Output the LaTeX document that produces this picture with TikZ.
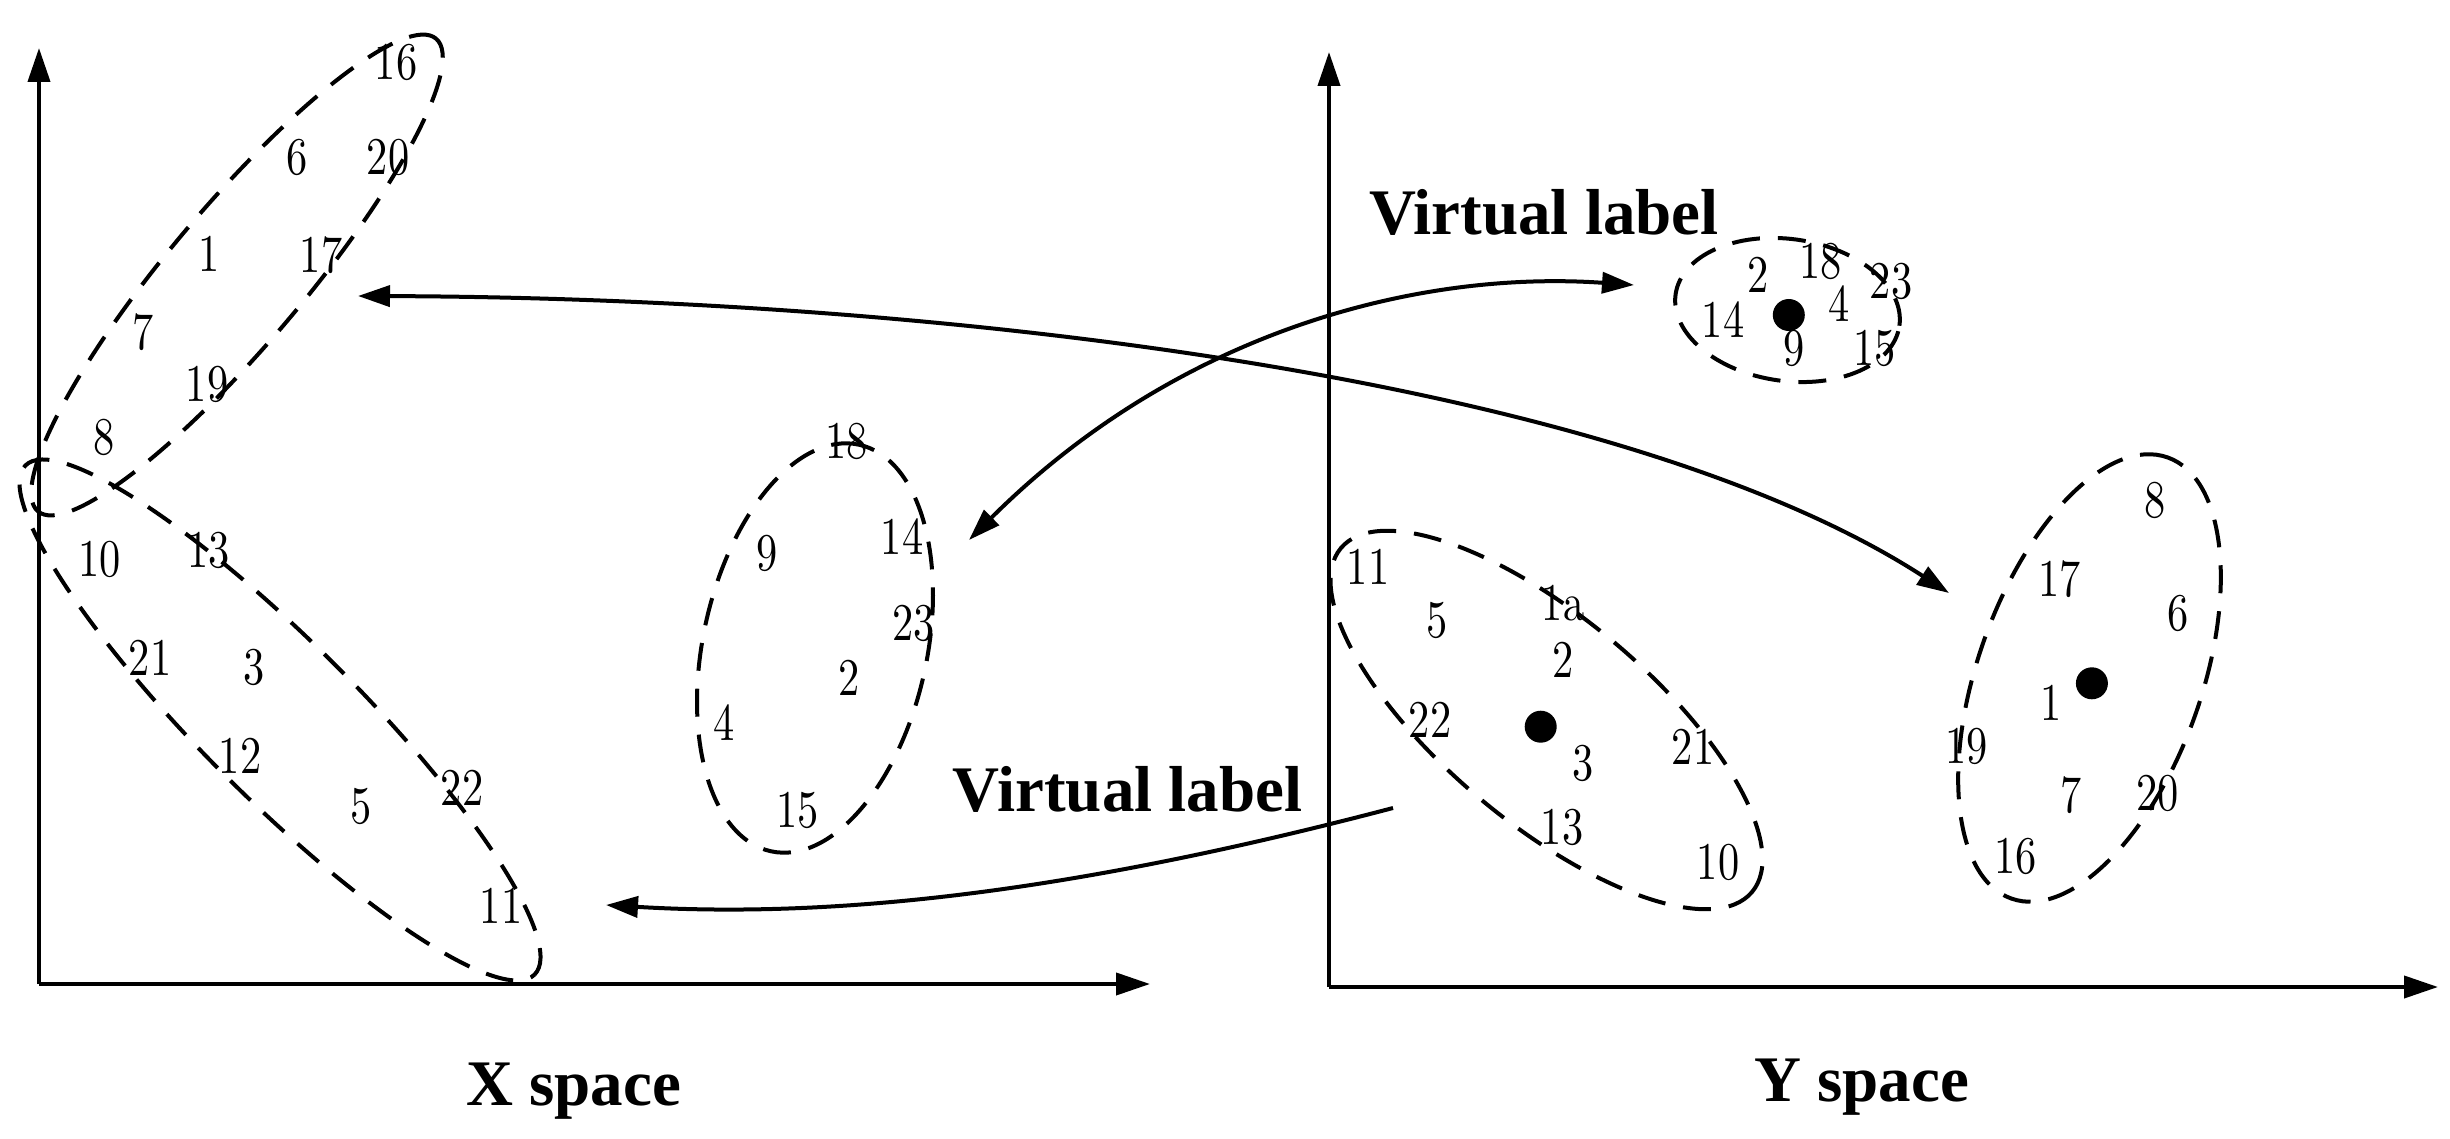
\documentclass[tikz,border=0pt]{standalone}
\usepackage{fontspec}
\setmainfont{Liberation Serif}
\newfontfamily\numfont{lmroman10-regular.otf}[FakeStretch=0.8]
\usetikzlibrary{arrows.meta,shapes.geometric}
\tikzset{
  num/.style={font=\numfont\fontsize{53}{60}\selectfont, inner sep=0pt},
  title/.style={font=\bfseries\fontsize{65}{78}\selectfont, inner sep=0pt, anchor=base},
  cluster/.style={draw, ellipse, line width=4pt, dash pattern=on 28pt off 18pt, inner sep=0pt},
  axisline/.style={line width=4pt, -{Triangle[length=34pt,width=22pt]}},
  link/.style={line width=4pt, >={Triangle[length=32pt,width=21pt]}},
  centre/.style={circle, fill, inner sep=0pt, minimum size=32pt},
}
\begin{document}
\begin{tikzpicture}[x=1pt,y=-1pt]
\useasboundingbox (0,0) rectangle (2450,1139);
% axes
\coordinate (ox) at (39,984);
\coordinate (oxy) at (39,48);
\coordinate (oxx) at (1150,984);
\coordinate (oy) at (1329,987);
\coordinate (oyy) at (1329,52);
\coordinate (oyx) at (2438,987);
\draw[axisline] (ox) -- (oxy);
\draw[axisline] (ox) -- (oxx);
\draw[axisline] (oy) -- (oyy);
\draw[axisline] (oy) -- (oyx);
% clusters
\node[cluster, minimum width=618pt, minimum height=136pt, rotate=49.9] (e1) at (237,275) {};
\node[cluster, minimum width=720pt, minimum height=156pt, rotate=-45] (e2) at (280,720) {};
\node[cluster, minimum width=416pt, minimum height=224pt, rotate=77.8] (e3) at (815,648) {};
\node[cluster, minimum width=226pt, minimum height=142pt, rotate=-8] (e4) at (1787.5,310) {};
\node[cluster, minimum width=536pt, minimum height=206pt, rotate=-39.9] (e5) at (1546.5,720) {};
\node[cluster, minimum width=468pt, minimum height=224pt, rotate=70.5] (e6) at (2089.5,678) {};
% cluster 1 labels
\node[num] (a16) at (396,62.5) {16};
\node[num] (a6) at (297,157) {6};
\node[num] (a20) at (388,157) {20};
\node[num] (a1) at (209,254) {1};
\node[num] (a17) at (321,255) {17};
\node[num] (a7) at (143.5,332) {7};
\node[num] (a19) at (207,384) {19};
\node[num] (a8) at (104,437.5) {8};
% cluster 2 labels
\node[num] (b10) at (99.5,559.6) {10};
\node[num] (b13) at (208.6,550.7) {13};
\node[num] (b21) at (150,658) {21};
\node[num] (b3) at (254.5,667) {3};
\node[num] (b12) at (240,756) {12};
\node[num] (b5) at (361,806) {5};
\node[num] (b22) at (462,788) {22};
\node[num] (b11) at (501,906) {11};
% cluster 3 labels
\node[num] (c18) at (846.4,441.7) {18};
\node[num] (c9) at (767,553) {9};
\node[num] (c14) at (902,536.7) {14};
\node[num] (c23) at (913.4,623) {23};
\node[num] (c2) at (848.7,678) {2};
\node[num] (c4) at (723.7,723) {4};
\node[num] (c15) at (797.3,810) {15};
% cluster 4 labels
\node[num] (d2) at (1758.5,275) {2};
\node[num] (d18) at (1820.7,261.7) {18};
\node[num] (d23) at (1891,281.7) {23};
\node[num] (d14) at (1723,320) {14};
\node[num] (d4) at (1838.6,303.3) {4};
\node[num] (d9) at (1793.8,348) {9};
\node[num] (d15) at (1874.7,348) {15};
\node[centre] (dc) at (1788.8,315) {};
% cluster 5 labels
\node[num] (f11) at (1368,567) {11};
\node[num] (f5) at (1437,620) {5};
\node[num] (f1a) at (1563,603) {1a};
\node[num] (f2) at (1563,660) {2};
\node[num] (f22) at (1430,720) {22};
\node[centre] (fc) at (1540.7,726.7) {};
\node[num] (f3) at (1583,763) {3};
\node[num] (f21) at (1693,747) {21};
\node[num] (f13) at (1562,827) {13};
\node[num] (f10) at (1718,862) {10};
% cluster 6 labels
\node[num] (g8) at (2155,500) {8};
\node[num] (g17) at (2059.6,578.8) {17};
\node[num] (g6) at (2178,613) {6};
\node[centre] (gc) at (2091.9,683.3) {};
\node[num] (g1) at (2050.8,703.2) {1};
\node[num] (g19) at (1966.6,746) {19};
\node[num] (g7) at (2070.8,795) {7};
\node[num] (g20) at (2157.8,793) {20};
\node[num] (g16) at (2015.7,856) {16};
% titles
\node[title] (vl1) at (1544,235) {Virtual label};
\node[title] (vl2) at (1127.7,811.7) {Virtual label};
\node[title] (xs) at (573.5,1105) {X space};
\node[title] (ys) at (1861.5,1101.7) {Y space};
% connectors
\coordinate (p1l) at (358,296);
\coordinate (p1r) at (1949,593);
\coordinate (p2l) at (969,540);
\coordinate (p2r) at (1634,285);
\coordinate (p3s) at (1393,808);
\coordinate (p3e) at (606,905);
\draw[link,<->] (p1l) .. controls (950,298) and (1620,380) .. (p1r);
\draw[link,<->] (p2l) .. controls (1180,330) and (1420,270) .. (p2r);
\draw[link,->] (p3s) .. controls (1100,885) and (856,920) .. (p3e);
\end{tikzpicture}
\end{document}
